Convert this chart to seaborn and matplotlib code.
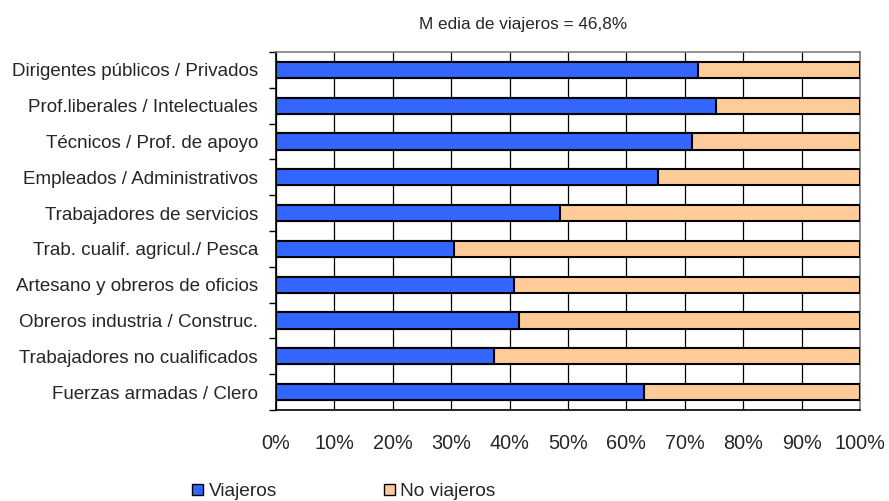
import matplotlib
matplotlib.use("Agg")
import matplotlib.pyplot as plt
from matplotlib.patches import Patch
from matplotlib.ticker import FixedLocator
import pandas as pd
import seaborn as sns

categorias = [
    "Dirigentes públicos / Privados",
    "Prof.liberales / Intelectuales",
    "Técnicos / Prof. de apoyo",
    "Empleados / Administrativos",
    "Trabajadores de servicios",
    "Trab. cualif. agricul./ Pesca",
    "Artesano y obreros de oficios",
    "Obreros industria / Construc.",
    "Trabajadores no cualificados",
    "Fuerzas armadas / Clero",
]
viajeros = [72.3, 75.3, 71.2, 65.4, 48.6, 30.5, 40.8, 41.6, 37.3, 63.0]
no_viajeros = [100 - v for v in viajeros]
xticks = [0, 10, 20, 30, 40, 50, 60, 70, 80, 90, 100]

azul = "#3366FF"
melocoton = "#FFCC99"

df = pd.DataFrame({"cat": categorias, "viaj": viajeros,
                   "total": [v + n for v, n in zip(viajeros, no_viajeros)]})

sns.set_style("white")
plt.rcParams["font.family"] = ["Liberation Sans", "DejaVu Sans"]

fig, ax = plt.subplots(figsize=(8.89, 5.01), dpi=100)
fig.subplots_adjust(left=276 / 889, right=860 / 889, top=1 - 52 / 501, bottom=1 - 410 / 501)

# fondo: barra completa (no viajeros), encima la parte de viajeros
sns.barplot(data=df, x="total", y="cat", orient="h", color=melocoton,
            edgecolor="black", linewidth=1.5, width=0.45, saturation=1, ax=ax, zorder=3)
sns.barplot(data=df, x="viaj", y="cat", orient="h", color=azul,
            edgecolor="black", linewidth=1.5, width=0.45, saturation=1, ax=ax, zorder=4)

ax.set_xlim(0, 100)
ax.set_ylim(len(categorias) - 0.5, -0.5)
ax.set_xticks(xticks)
ax.set_xticklabels([f"{t}%" for t in xticks], fontsize=14.3)
ax.tick_params(axis="x", length=5, width=1, pad=12, color="black")
ax.tick_params(axis="y", which="major", length=0, pad=13, labelsize=13.5)
ax.yaxis.set_minor_locator(FixedLocator([i - 0.5 for i in range(len(categorias) + 1)]))
ax.tick_params(axis="y", which="minor", length=5, width=1, color="black", left=True)
ax.set_xlabel("")
ax.set_ylabel("")

ax.grid(axis="x", color="black", linewidth=0.9, zorder=0)
ax.set_axisbelow(True)
for s in ["left", "bottom"]:
    ax.spines[s].set_color("black")
    ax.spines[s].set_linewidth(1.2)
for s in ["top", "right"]:
    ax.spines[s].set_color("#808080")
    ax.spines[s].set_linewidth(1.2)

fig.text(523 / 889, 1 - 24 / 501, "M edia de viajeros = 46,8%", ha="center", va="center", fontsize=12.3)

handles = [Patch(facecolor=azul, edgecolor="black", label="Viajeros"),
           Patch(facecolor=melocoton, edgecolor="black", label="No viajeros")]
fig.legend(handles=handles, loc="center", bbox_to_anchor=(344 / 889, 1 - 492 / 501), ncol=2,
           frameon=False, fontsize=13.8, handlelength=0.55, handleheight=0.55,
           handletextpad=0.3, columnspacing=5.6, borderpad=0)

fig.savefig("out.png", dpi=100)
